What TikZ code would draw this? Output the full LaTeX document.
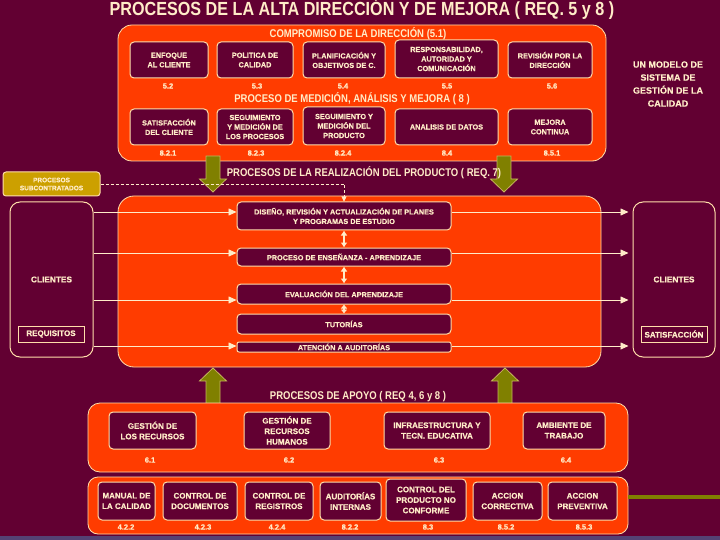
\documentclass[tikz,border=0pt]{standalone}
\usepackage{fontspec}
\setmainfont{Liberation Sans}
\newfontfamily\narrowfont{Liberation Sans}[FakeStretch=0.85]
\newfontfamily\boxfont{Liberation Sans Bold}[FakeBold=0.5]
\usetikzlibrary{arrows.meta}
\definecolor{bg}{RGB}{98,0,50}
\definecolor{org}{RGB}{255,60,0}
\definecolor{cream}{RGB}{255,222,170}
\definecolor{ctext}{RGB}{255,236,200}
\definecolor{oliv}{RGB}{128,128,0}
\definecolor{gold}{RGB}{204,160,0}
\definecolor{stripc}{RGB}{84,66,116}
\newcommand\oliveDown[1]{\draw[olivearrow] (#1-7,156) -- (#1+7,156) -- (#1+7,179) -- (#1+13.5,179) -- (#1,192) -- (#1-13.5,179) -- (#1-7,179) -- cycle;}
\newcommand\oliveUp[1]{\draw[olivearrow] (#1-7,404) -- (#1+7,404) -- (#1+7,381) -- (#1+13.5,381) -- (#1,368) -- (#1-13.5,381) -- (#1-7,381) -- cycle;}
\begin{document}
\begin{tikzpicture}[x=1pt,y=-1pt,
  orangebox/.style={draw=cream, line width=0.8pt, fill=org},
  pbox/.style={draw=cream, line width=1pt, fill=bg, rounded corners=4pt, text=ctext, font=\boxfont\fontsize{7.3}{9.5}\selectfont, align=center, inner sep=1pt},
  bbox/.style={pbox, font=\boxfont\fontsize{8}{10.5}\selectfont},
  sidebox/.style={draw=cream, line width=1pt, fill=bg, rounded corners=10pt, text=ctext, font=\boxfont\fontsize{8.3}{10}\selectfont},
  tagbox/.style={draw=cream, line width=0.7pt, fill=bg, text=ctext, font=\boxfont\fontsize{8}{10}\selectfont, inner sep=0pt},
  num/.style={text=ctext, font=\boxfont\fontsize{7.5}{9}\selectfont, inner sep=0pt},
  head/.style={text=ctext, font=\narrowfont\bfseries\fontsize{11.2}{13}\selectfont, inner sep=0pt},
  olivearrow/.style={fill=oliv, draw=cream!55!oliv, line width=0.8pt},
  harrow/.style={draw=ctext, line width=0.8pt, -{Triangle[width=7pt,length=8pt]}},
  dbl/.style={draw=ctext, line width=2.2pt, {Latex[length=5pt,width=7pt]}-{Latex[length=5pt,width=7pt]}},
  dashline/.style={draw=ctext, line width=0.7pt, dash pattern=on 3pt off 2pt, -{Triangle[width=5pt,length=5pt]}}
]
\useasboundingbox (0,0) rectangle (720,540);
\fill[bg] (0,0) rectangle (720,540);
\fill[stripc] (0,536) rectangle (720,540);

% title
\node[text=ctext, font=\narrowfont\bfseries\fontsize{19}{20}\selectfont, inner sep=0pt] (title) at (362,9.5) {PROCESOS DE LA ALTA DIRECCIÓN Y DE MEJORA ( REQ. 5 y 8 )};

% top orange box
\node[orangebox, rounded corners=14pt, minimum width=488, minimum height=136] (top) at (362,93) {};
\node[head] (hcomp) at (358,34) {COMPROMISO DE LA DIRECCIÓN (5.1)};
\node[pbox, minimum width=78, minimum height=36] (b1) at (169,60) {ENFOQUE\\AL CLIENTE};
\node[pbox, minimum width=76, minimum height=36] (b2) at (255,60) {POLITICA DE\\CALIDAD};
\node[pbox, minimum width=82, minimum height=36] (b3) at (344,60) {PLANIFICACIÓN Y\\OBJETIVOS DE C.};
\node[pbox, minimum width=103, minimum height=38] (b4) at (446.5,59) {RESPONSABILIDAD,\\AUTORIDAD Y\\COMUNICACIÓN};
\node[pbox, minimum width=84, minimum height=36] (b5) at (550,60) {REVISIÓN POR LA\\DIRECCIÓN};
\node[num] (n52) at (168,86) {5.2};
\node[num] (n53) at (257,86) {5.3};
\node[num] (n54) at (343,86) {5.4};
\node[num] (n55) at (447,86) {5.5};
\node[num] (n56) at (552,86) {5.6};
\node[head] (hmed) at (352,99) {PROCESO DE MEDICIÓN, ANÁLISIS Y MEJORA ( 8 )};
\node[pbox, minimum width=78, minimum height=36] (c1) at (169,127) {SATISFACCIÓN\\DEL CLIENTE};
\node[pbox, minimum width=76, minimum height=36] (c2) at (255,127) {SEGUIMIENTO\\Y MEDICIÓN DE\\LOS PROCESOS};
\node[pbox, minimum width=82, minimum height=38] (c3) at (344,126) {SEGUIMIENTO Y\\MEDICIÓN DEL\\PRODUCTO};
\node[pbox, minimum width=103, minimum height=36] (c4) at (446.5,127) {ANALISIS DE DATOS};
\node[pbox, minimum width=84, minimum height=36] (c5) at (550,127) {MEJORA\\CONTINUA};
\node[num] (n821) at (168,153) {8.2.1};
\node[num] (n823) at (256,153) {8.2.3};
\node[num] (n824) at (343,153) {8.2.4};
\node[num] (n84) at (447,153) {8.4};
\node[num] (n851) at (552,153) {8.5.1};

\node[text=ctext, font=\boxfont\fontsize{9}{13}\selectfont, align=center, inner sep=0pt] (modelo) at (668,84) {UN MODELO DE\\SISTEMA DE\\GESTIÓN DE LA\\CALIDAD};

% middle
\node[orangebox, rounded corners=16pt, minimum width=483, minimum height=171] (mid) at (359.5,281.5) {};
\oliveDown{213}
\oliveDown{504}
\node[head] (hreal) at (364,173) {PROCESOS DE LA REALIZACIÓN DEL PRODUCTO ( REQ. 7)};

\node[draw=cream, line width=1pt, fill=gold, rounded corners=3pt, text=ctext, font=\boxfont\fontsize{6.5}{8}\selectfont, align=center, minimum width=97, minimum height=24, inner sep=0pt] (sub) at (51.5,184) {PROCESOS\\SUBCONTRATADOS};

\node[pbox, minimum width=214, minimum height=28] (d1) at (344,216) {DISEÑO, REVISIÓN Y ACTUALIZACIÓN DE PLANES\\Y PROGRAMAS DE ESTUDIO};
\node[pbox, minimum width=214, minimum height=18] (d2) at (344,257) {PROCESO DE ENSEÑANZA - APRENDIZAJE};
\node[pbox, minimum width=214, minimum height=20] (d3) at (344,294) {EVALUACIÓN DEL APRENDIZAJE};
\node[pbox, minimum width=214, minimum height=20] (d4) at (344,324) {TUTORÍAS};
\node[pbox, minimum width=214, minimum height=10, rounded corners=2pt] (d5) at (344,347) {ATENCIÓN A AUDITORÍAS};

\draw[dashline] (sub.east) -| (d1.north);

\draw[dbl] (d1.south) -- (d2.north);
\draw[dbl] (d2.south) -- (d3.north);
\draw[dbl, {Latex[length=4pt,width=7pt]}-{Latex[length=4pt,width=7pt]}] (d3.south) -- (d4.north);

\node[sidebox, minimum width=83, minimum height=155] (cliL) at (51.5,279.5) {CLIENTES};
\node[sidebox, minimum width=82, minimum height=155] (cliR) at (674,279.5) {CLIENTES};
\node[tagbox, minimum width=66, minimum height=16] (req) at (51,334) {REQUISITOS};
\node[tagbox, minimum width=66, minimum height=16] (sat) at (674,334) {SATISFACCIÓN};

\coordinate (y1) at (0,212);
\coordinate (y2) at (0,253);
\coordinate (y3) at (0,300);
\coordinate (y4) at (0,346);
\draw[harrow] (cliL.east |- y1) -- (d1.west |- y1);
\draw[harrow] (cliL.east |- y2) -- (d2.west |- y2);
\draw[harrow] (cliL.east |- y3) -- (d3.west |- y3);
\draw[harrow] (cliL.east |- y4) -- (d5.west |- y4);
\draw[harrow, shorten >=4pt] (d1.east |- y1) -- (cliR.west |- y1);
\draw[harrow, shorten >=4pt] (d2.east |- y2) -- (cliR.west |- y2);
\draw[harrow, shorten >=4pt] (d3.east |- y3) -- (cliR.west |- y3);
\draw[harrow, shorten >=4pt] (d5.east |- y4) -- (cliR.west |- y4);

% support
\oliveUp{213}
\oliveUp{505}
\node[head] (hapoyo) at (358,397) {PROCESOS DE APOYO ( REQ 4, 6 y 8 )};
\node[orangebox, rounded corners=12pt, minimum width=540, minimum height=69] (apoyo) at (358,437.5) {};
\node[bbox, minimum width=87, minimum height=37] (a1) at (152.5,430.5) {GESTIÓN DE\\LOS RECURSOS};
\node[bbox, minimum width=86, minimum height=37] (a2) at (287,430.5) {GESTIÓN DE\\RECURSOS\\HUMANOS};
\node[bbox, minimum width=106, minimum height=37] (a3) at (437,430.5) {INFRAESTRUCTURA Y\\TECN. EDUCATIVA};
\node[bbox, minimum width=82, minimum height=37] (a4) at (564,430.5) {AMBIENTE DE\\TRABAJO};
\node[num] (n61) at (150,460) {6.1};
\node[num] (n62) at (289,460) {6.2};
\node[num] (n63) at (439,460) {6.3};
\node[num] (n64) at (566,460) {6.4};

% bottom
\node[orangebox, rounded corners=10pt, minimum width=540, minimum height=57] (bot) at (358,505.5) {};
\node[coordinate] (olend) at (720,497) {};
\draw[oliv, line width=4pt] (bot.east |- olend) -- (olend);
\node[bbox, minimum width=57, minimum height=38] (m1) at (126.5,501) {MANUAL DE\\LA CALIDAD};
\node[bbox, minimum width=74, minimum height=38] (m2) at (200,501) {CONTROL DE\\DOCUMENTOS};
\node[bbox, minimum width=68, minimum height=38] (m3) at (279,501) {CONTROL DE\\REGISTROS};
\node[bbox, minimum width=61, minimum height=38] (m4) at (350.5,501) {AUDITORÍAS\\INTERNAS};
\node[bbox, minimum width=80, minimum height=42] (m5) at (426,500) {CONTROL DEL\\PRODUCTO NO\\CONFORME};
\node[bbox, minimum width=69, minimum height=38] (m6) at (507.5,501) {ACCION\\CORRECTIVA};
\node[bbox, minimum width=69, minimum height=38] (m7) at (582.5,501) {ACCION\\PREVENTIVA};
\node[num] (n422) at (126,527) {4.2.2};
\node[num] (n423) at (203,527) {4.2.3};
\node[num] (n424) at (277,527) {4.2.4};
\node[num] (n822) at (350,527) {8.2.2};
\node[num] (n83) at (428,527) {8.3};
\node[num] (n852) at (506,527) {8.5.2};
\node[num] (n853) at (584,527) {8.5.3};
\end{tikzpicture}
\end{document}
